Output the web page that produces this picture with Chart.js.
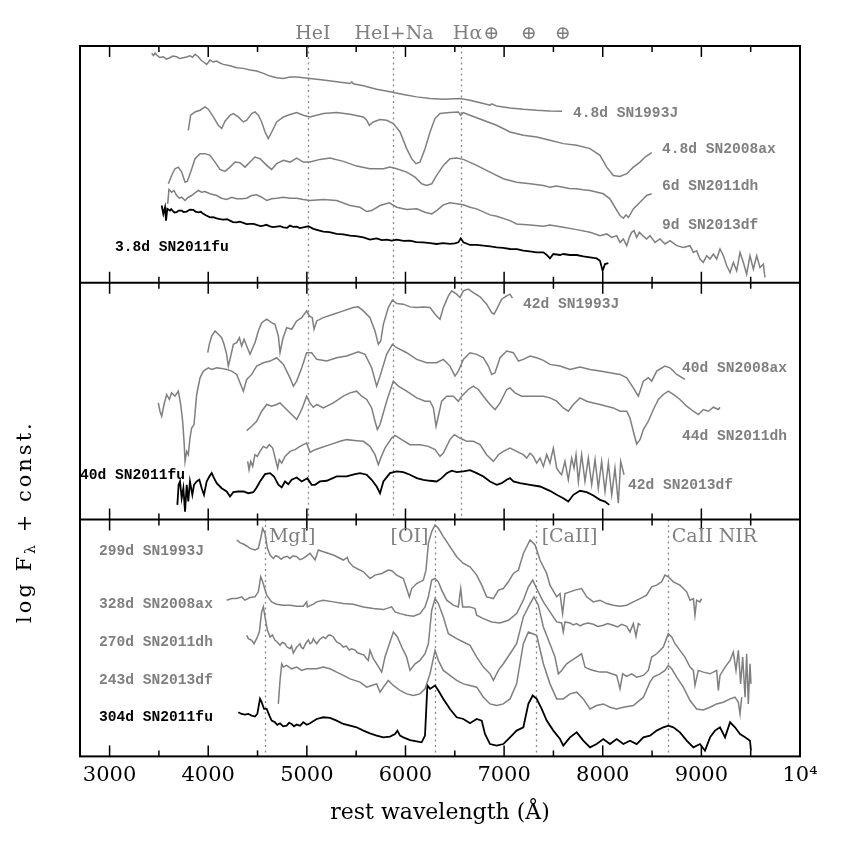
<!DOCTYPE html>
<html>
<head>
<meta charset="utf-8">
<script src="https://cdn.jsdelivr.net/npm/chart.js@4.4.1/dist/chart.umd.min.js"></script>
<style>
  html, body { margin: 0; padding: 0; background: #fff; }
  #wrap { width: 845px; height: 845px; }
</style>
</head>
<body>
<div id="wrap"><canvas id="specChart" width="845" height="845"></canvas></div>
<script>
// spectra as [rest wavelength (A), log F + const] pairs

// --- top panel: early phase ---
const early93J = [[3427,228.7],[3445,226.5],[3462,229],[3477,227],[3510,224.5],[3545,225.3],[3575,223],[3612,224.3],[3640,226],[3680,225.3],[3710,223.5],[3747,224.3],[3780,225],[3815,226.3],[3840,224.8],[3866,227.7],[3900,225.3],[3925,222],[3950,220.3],[3984,217.7],[4000,219.5],[4018,222],[4050,220],[4086,221],[4120,219],[4153,217.7],[4221,216.3],[4289,214.3],[4356,213.7],[4424,212],[4492,211],[4559,208.7],[4626,206],[4694,204.3],[4762,203.7],[4829,205],[4897,205],[4964,204.3],[5032,203.7],[5167,202],[5302,200.3],[5438,198.7],[5455,200.3],[5471,198.3],[5573,196.3],[5708,193],[5843,190.3],[5978,187.7],[6114,185.3],[6249,183.7],[6384,183],[6553,183.7],[6654,182],[6789,178.7],[6857,177],[6874,178.3],[6924,176.3],[7060,174.3],[7195,173],[7330,172],[7465,171.3],[7587,171]];
const early08ax = [[3798,152],[3822,167],[3866,170.3],[3917,172],[3967,175.3],[4001,173],[4052,165.3],[4102,157],[4137,153.7],[4170,161],[4221,167],[4255,168.7],[4305,165.3],[4356,160.3],[4390,162],[4441,168.7],[4474,170.3],[4508,167],[4542,160.3],[4576,150.3],[4609,143.7],[4644,150.3],[4694,160.3],[4762,165.3],[4829,167.7],[4897,169.7],[4964,167],[5032,165.3],[5167,168.7],[5302,169.7],[5438,168],[5573,165.3],[5607,162],[5633,157],[5674,160.3],[5742,162.7],[5810,162],[5877,158.7],[5945,150.3],[6012,133.7],[6063,123.7],[6107,118.7],[6147,120.3],[6198,133.7],[6249,150.3],[6299,163.7],[6350,168.7],[6451,169.7],[6536,170.3],[6560,167],[6586,169.7],[6654,167],[6789,162],[6924,157],[7060,150.3],[7195,147],[7330,145.3],[7465,142],[7600,138.7],[7736,137],[7871,133.7],[7972,127],[8040,115.3],[8107,107],[8175,106],[8243,108.7],[8310,115.3],[8378,120.3],[8429,125.3],[8497,129.7]];
const early11dh = [[3596,98.7],[3629,107],[3663,113.7],[3697,115.3],[3731,110.3],[3765,100.3],[3788,101],[3822,110.3],[3866,123.7],[3917,128.7],[3967,128.7],[4018,127],[4069,120.3],[4119,113],[4170,111],[4221,115.3],[4272,120.3],[4322,119.7],[4373,115.3],[4424,120.3],[4474,125.3],[4525,123.7],[4593,117],[4643,113],[4694,118.7],[4762,122],[4829,120.3],[4897,124.3],[4964,120.3],[5032,120.3],[5133,123],[5235,124.3],[5370,121],[5505,116.3],[5640,113.7],[5776,113.7],[5843,115.3],[5911,113.7],[6012,110.3],[6097,105.3],[6164,98.7],[6215,97],[6266,98.7],[6316,107],[6384,117],[6451,123.7],[6519,124.3],[6587,123],[6722,117],[6857,110.3],[6992,103.7],[7127,100.3],[7263,98.7],[7398,97],[7465,95.3],[7530,96.5],[7600,95.3],[7660,94],[7736,93.7],[7800,92.8],[7871,92],[8006,88.7],[8073,83.7],[8124,75.3],[8175,67],[8209,64.3],[8236,67.7],[8260,65],[8310,73.7],[8378,80.3],[8445,87],[8496,88.7]];
const early13df = [[3589,78.7],[3602,93],[3629,90.3],[3653,92],[3680,87],[3707,84.3],[3731,85.3],[3765,82],[3798,85.3],[3832,87],[3866,89.7],[3900,92],[3934,90.3],[3967,91],[4018,88.7],[4086,87],[4136,84.3],[4187,83],[4238,85.3],[4288,83.7],[4339,83.7],[4390,84.3],[4441,87],[4491,87.7],[4542,85.3],[4593,82],[4643,83.7],[4694,84.3],[4762,85.3],[4829,84.3],[4897,84.3],[4964,83],[5032,82],[5167,83],[5302,82],[5438,77],[5539,75.3],[5607,71],[5657,72],[5742,77],[5836,79.7],[5911,75.3],[6012,73],[6114,73.7],[6198,70.3],[6266,68.7],[6316,72],[6384,77.7],[6451,79.7],[6519,78.7],[6587,77.7],[6654,75.3],[6722,73.7],[6857,67.7],[6925,66.3],[7060,62],[7127,58.7],[7263,57.7],[7398,56.3],[7465,57.5],[7600,55.3],[7736,53],[7871,50.3],[7972,47],[8040,48.7],[8091,45.3],[8141,47],[8175,40.3],[8209,43.7],[8243,37],[8270,45.3],[8293,50.3],[8317,52],[8344,45.3],[8371,50.3],[8405,47],[8445,43.7],[8479,47],[8530,40.3],[8581,43.7],[8631,38.7],[8682,42],[8750,37],[8817,35.3],[8885,37],[8919,30.3],[8952,32],[8986,23.7],[9020,20.3],[9054,27],[9088,23.7],[9122,28.7],[9155,23.7],[9189,33.7],[9223,27],[9257,17],[9291,10.3],[9324,20.3],[9358,12],[9392,30.3],[9426,20.3],[9459,8.7],[9493,27],[9527,13.7],[9561,27],[9594,15.3],[9628,18.7],[9645,5.3]];
const early11fu = [[3528,77],[3545,68.7],[3562,75.3],[3572,62],[3585,73.7],[3612,72],[3625,73.5],[3646,71],[3660,70],[3680,70.3],[3700,72],[3731,72],[3750,70.5],[3781,71],[3815,73],[3849,72.7],[3870,71],[3900,70.3],[3925,70.8],[3950,68.7],[3980,67],[4018,65.3],[4050,65.5],[4086,64.3],[4120,63.5],[4153,63],[4190,63.3],[4221,62],[4250,60.5],[4288,60.3],[4320,61],[4356,59.7],[4390,58.5],[4424,58.7],[4460,58.8],[4491,57.7],[4530,56.5],[4559,57],[4590,57.8],[4626,56.3],[4660,55.5],[4694,56],[4730,56.5],[4762,55.3],[4800,54.8],[4829,57],[4860,55.8],[4897,56],[4930,54.6],[4964,55.3],[5015,56.3],[5066,53.7],[5110,52.5],[5167,51],[5230,50.5],[5302,48.7],[5370,48.2],[5438,47],[5500,46.5],[5573,45.3],[5640,43],[5708,44.3],[5760,42.5],[5809,43],[5860,42],[5911,43],[5980,41.8],[6046,42],[6110,40.5],[6181,40.3],[6250,39.6],[6316,38.7],[6380,39.5],[6451,38.7],[6500,39.2],[6536,40.3],[6560,44.3],[6587,40.3],[6654,37.7],[6720,37.8],[6789,37],[6860,36.2],[6925,35.3],[6990,34.8],[7060,33.7],[7130,33.5],[7195,32],[7260,31.4],[7330,30.3],[7398,30.3],[7430,28],[7465,24.3],[7499,28.7],[7567,27.7],[7600,28.7],[7668,27.7],[7736,27.7],[7803,26.3],[7871,25.3],[7938,24.3],[7972,22],[7999,12],[8023,18.7],[8057,19.7]];

// --- middle panel: ~40 days ---
const mid93J = [[3995,166.3],[4011,174.7],[4035,183],[4069,188],[4103,184.7],[4137,181.3],[4160,174.7],[4187,164.7],[4204,153],[4221,159.7],[4255,174.7],[4289,176.3],[4316,181.3],[4339,173],[4363,179.7],[4390,173],[4424,164.7],[4451,171.3],[4474,176.3],[4508,188],[4542,196.3],[4593,199.7],[4643,196.3],[4677,194.7],[4711,183],[4728,166.3],[4755,179.7],[4795,191.3],[4846,189.7],[4897,198],[4948,201.3],[4998,208],[5025,203],[5055,201.3],[5073,189.7],[5100,198],[5167,201.3],[5269,204.7],[5370,208],[5471,211.3],[5522,212],[5573,208],[5640,201.3],[5691,188],[5725,174.7],[5749,178],[5776,194.7],[5826,211.3],[5867,218.7],[5911,215.3],[5978,214.7],[6046,212],[6114,211.3],[6181,212],[6249,211.3],[6300,204.7],[6350,199.7],[6384,211.3],[6435,223],[6469,228],[6519,224.7],[6553,221.3],[6587,228],[6637,229.7],[6688,226.3],[6756,222],[6823,214.7],[6874,206.3],[6898,204.7],[6925,209.7],[6975,219.7],[7026,223],[7060,224.7],[7084,220.7]];
const mid08ax = [[3494,116.3],[3511,108],[3528,103],[3552,114.7],[3579,124.7],[3606,119.7],[3629,126.3],[3663,123],[3697,128],[3721,114.7],[3741,98],[3755,78],[3765,58],[3782,68],[3798,64.7],[3815,81.3],[3832,91.3],[3856,94.7],[3883,124.7],[3917,141.3],[3951,148],[4001,151.3],[4035,149.7],[4086,151.3],[4136,150.7],[4187,149.7],[4238,148],[4289,144.7],[4322,136.3],[4356,128],[4390,139.7],[4441,144.7],[4491,153],[4559,156.3],[4627,158],[4694,161.3],[4762,154.7],[4829,141.3],[4863,133],[4897,138],[4948,151.3],[4998,166.3],[5049,166.3],[5100,159.7],[5201,158],[5302,161.3],[5404,163],[5522,167.3],[5590,164.7],[5657,151.3],[5708,133],[5742,143],[5809,164.7],[5867,174.7],[5911,171.3],[6012,166.3],[6114,159.7],[6215,156.3],[6316,156.3],[6384,159.7],[6451,153],[6502,143],[6536,148],[6587,159.7],[6654,166.3],[6722,164.7],[6790,161.3],[6840,153],[6874,144.7],[6908,146.3],[6959,161.3],[7026,168],[7094,166.3],[7145,158],[7195,159.7],[7263,163],[7330,161.3],[7398,158.7],[7465,154.7],[7567,153],[7668,149.7],[7769,152],[7871,149.7],[7972,148],[8073,146.3],[8175,144.7],[8243,141.3],[8310,131.3],[8361,123],[8412,138],[8462,141.3],[8496,138],[8547,148],[8631,153],[8682,151.3],[8750,144.7],[8834,139.7]];
const mid11dh = [[4390,88.7],[4441,93],[4491,98],[4542,108],[4593,114.7],[4643,113],[4694,114.7],[4728,116.3],[4779,111.3],[4846,104.7],[4897,99.7],[4948,109.7],[4998,123],[5032,116],[5066,112],[5100,114.7],[5167,111.3],[5269,116.3],[5370,123],[5438,126.3],[5505,128],[5556,123],[5607,119.7],[5657,111.3],[5691,98],[5715,89.7],[5742,94.7],[5809,118],[5877,138],[5928,133],[6012,128],[6114,121.3],[6198,118],[6249,118],[6283,111.3],[6310,93],[6333,103],[6367,118],[6418,123],[6485,123],[6536,118],[6570,123],[6637,129.7],[6688,133],[6739,129.7],[6790,123],[6857,114.7],[6908,109.7],[6959,116.3],[7026,129.7],[7060,131.3],[7111,126.3],[7178,123],[7263,123],[7398,123],[7465,121.3],[7533,118],[7600,111.3],[7651,108],[7702,114.7],[7769,121.3],[7837,118],[7905,116.3],[7972,114.7],[8040,113],[8107,111.3],[8175,108],[8243,108],[8276,101.3],[8310,88],[8344,75.3],[8378,79.7],[8412,89.7],[8462,98],[8513,109.7],[8564,119.7],[8614,124.7],[8665,128],[8716,124.7],[8783,119.7],[8851,113],[8919,108],[8969,104.7],[9020,109.7],[9071,108],[9122,112],[9172,109.7],[9189,112]];
const mid13df = [[4400,58],[4414,49.7],[4431,58],[4451,53],[4474,64.7],[4498,63],[4525,68],[4559,73],[4593,71.3],[4620,74.7],[4654,71.3],[4687,58],[4704,51.3],[4721,59.7],[4745,56.3],[4779,63],[4829,68],[4880,69.7],[4931,73],[4964,74.7],[4998,76.3],[5032,67],[5083,69.7],[5133,71.3],[5235,74.7],[5336,78],[5404,79.7],[5505,78.7],[5573,78],[5640,73],[5691,64.7],[5725,54.7],[5749,61.3],[5792,71.3],[5860,81.3],[5894,84],[5962,79.7],[6046,74.7],[6147,74.7],[6232,73],[6300,69.7],[6350,63],[6384,66.3],[6451,79.7],[6495,84.7],[6553,81.3],[6620,78],[6688,78],[6756,74.7],[6823,64.7],[6891,58],[6942,64.7],[6992,68],[7060,71.3],[7127,68],[7195,64.7],[7229,61.3],[7263,66.3],[7296,63],[7330,56.3],[7364,61.3],[7398,53],[7432,64.7],[7465,56.3],[7499,71.3],[7533,51.3],[7567,46.3],[7583,44.7],[7617,58],[7651,39.7],[7685,61.3],[7709,51.3],[7729,64.7],[7753,38],[7786,64.7],[7820,38],[7854,61.3],[7888,34.7],[7922,59.7],[7955,31.3],[7989,58],[8023,28],[8057,56.3],[8091,24.7],[8124,51.3],[8158,16.3],[8182,58],[8216,44.7]];
const mid11fu = [[3687,14.7],[3700,34.7],[3714,38],[3731,21.3],[3748,31.3],[3765,8],[3782,34.7],[3798,18],[3815,38],[3839,24.7],[3856,34.7],[3883,38],[3910,39.7],[3934,31.3],[3957,24.7],[3984,38],[4011,43],[4035,46.3],[4059,41.3],[4086,36.3],[4136,31.3],[4187,28],[4221,23],[4255,27.3],[4305,28],[4356,28],[4407,26.3],[4458,27.3],[4491,32],[4525,38],[4576,45.3],[4627,46.3],[4667,43],[4711,34.7],[4745,32],[4779,38],[4812,35.3],[4846,39.7],[4897,42],[4948,38],[5005,41.3],[5049,34.7],[5083,34.7],[5133,38],[5201,38.7],[5302,43],[5404,43],[5488,45.3],[5539,46.3],[5607,44.7],[5657,39.7],[5708,33],[5742,26.3],[5776,38],[5843,46.3],[5911,48],[5978,47.3],[6046,44.7],[6114,41.3],[6181,39.7],[6249,38.7],[6316,38],[6367,41.3],[6418,46.3],[6469,48.7],[6519,47.3],[6587,48],[6654,49.3],[6722,46.3],[6790,43],[6857,38],[6925,34.7],[6975,36.3],[7026,39.7],[7060,41.3],[7094,38],[7161,36.3],[7263,34.7],[7364,33],[7465,28.7],[7533,24.7],[7600,21.3],[7651,18],[7702,24.7],[7769,28.7],[7837,27.3],[7905,24],[7972,19.7],[8023,18],[8066,14.7]];

// --- bottom panel: nebular phase ---
const neb93J = [[4289,215.7],[4322,213],[4356,211.7],[4390,209.7],[4424,207.3],[4474,205.7],[4508,207.3],[4532,217.3],[4552,227.3],[4576,222.3],[4600,207.3],[4627,200.7],[4660,197.3],[4685,200],[4711,199],[4740,196.5],[4762,198.3],[4800,199.5],[4829,197.3],[4860,200],[4897,199],[4930,196],[4964,197.3],[5032,202.3],[5083,195.7],[5117,205.7],[5167,204],[5269,200.7],[5370,195.7],[5411,198.3],[5424,194],[5471,189],[5573,184],[5640,177.3],[5691,180.7],[5759,182.3],[5826,185.7],[5860,185],[5911,180.7],[5978,177.3],[6012,167.3],[6039,159],[6063,167.3],[6114,172.3],[6181,175.7],[6208,185.7],[6232,212.3],[6266,224],[6300,230.7],[6333,227.3],[6384,219],[6451,209],[6519,199],[6587,192.3],[6654,189],[6722,180.7],[6773,170.7],[6823,159],[6891,157.3],[6942,165.7],[6992,167.3],[7043,174],[7094,182.3],[7145,185.7],[7195,202.3],[7263,215.7],[7314,210.7],[7364,195.7],[7432,182.3],[7465,170.7],[7533,159],[7567,162.3],[7593,142.3],[7617,162.3],[7668,164],[7719,165.7],[7786,167.3],[7837,159],[7905,154],[7972,155.7],[8040,152.3],[8107,150.7],[8175,149.7],[8243,150.7],[8310,154],[8378,157.3],[8445,160.7],[8496,169],[8547,170.7],[8597,174],[8631,180.7],[8665,179],[8716,174],[8783,170.7],[8851,164],[8885,155.7],[8919,157.3],[8935,140.7],[8952,155.7],[8986,154],[9003,157.3]];
const neb08ax = [[4187,155.7],[4238,157.3],[4289,157.3],[4339,159],[4373,155.7],[4424,158.3],[4474,159],[4508,164],[4532,179],[4552,174],[4593,160.7],[4643,154],[4694,151.7],[4762,150.7],[4829,150.7],[4897,149.7],[4964,149.7],[4998,154],[5005,149],[5066,151.7],[5100,154],[5167,155.7],[5269,154],[5370,152.3],[5471,151.7],[5573,149],[5674,147.3],[5776,146.3],[5860,149],[5894,144],[5945,142.3],[6012,140.7],[6080,139.7],[6147,142.3],[6198,149],[6232,159],[6266,175.7],[6300,177.3],[6333,174],[6367,165.7],[6418,155.7],[6485,150.7],[6536,149],[6560,167.3],[6580,149],[6654,149],[6705,147.3],[6722,140.7],[6790,137.3],[6874,134],[6959,133],[7043,135.7],[7127,142.3],[7195,155.7],[7246,169],[7290,175.7],[7330,167.3],[7398,154],[7465,144],[7533,134],[7583,133],[7600,124],[7617,134],[7668,133],[7700,131],[7736,132.3],[7770,130],[7803,131.7],[7850,133],[7905,131.7],[7950,129.5],[8006,130.7],[8050,132.5],[8107,130.7],[8150,129],[8192,131.7],[8243,129.7],[8276,124],[8310,132.3],[8337,119.7],[8361,132.3],[8384,130.7]];
const neb11dh = [[4390,120.7],[4407,117.3],[4441,115.7],[4464,112.3],[4491,117.3],[4518,124],[4542,144],[4559,149],[4576,139],[4600,125.7],[4627,119],[4650,121],[4677,115.7],[4700,114],[4728,110.7],[4750,113.5],[4779,112.3],[4800,109],[4829,107.3],[4845,110],[4863,103],[4880,106],[4897,109],[4915,110.5],[4931,112.3],[4945,108.5],[4964,107.3],[4980,111],[4998,114],[5015,116],[5032,112.3],[5050,113.5],[5066,117.3],[5083,114.5],[5100,112.3],[5130,116.5],[5167,119],[5190,117.5],[5218,120.7],[5240,121],[5269,119],[5285,116.5],[5302,114],[5335,112.5],[5370,109],[5400,110],[5430,106],[5454,107.3],[5490,106],[5510,103.5],[5539,102.3],[5580,101],[5600,98],[5623,95.7],[5640,105.7],[5674,97.3],[5708,92.3],[5759,84],[5792,99],[5843,114],[5877,124],[5918,119],[5962,109],[6012,99],[6046,85.7],[6097,92.3],[6147,95.7],[6198,102.3],[6232,112.3],[6266,145.7],[6300,157.3],[6333,152.3],[6384,139],[6435,122.3],[6519,117.3],[6587,114],[6654,110.7],[6722,99],[6790,89],[6857,82.3],[6891,75.7],[6942,85.7],[6992,92.3],[7060,102.3],[7127,112.3],[7195,139],[7263,152.3],[7303,159],[7347,150.7],[7398,129],[7465,112],[7516,99],[7550,82.3],[7583,85.7],[7634,92.3],[7685,95.7],[7736,99],[7786,102.3],[7820,89],[7854,87.3],[7905,85.7],[7972,84],[8040,84],[8090,82.3],[8141,80.7],[8175,67.3],[8202,82.3],[8243,79.7],[8293,82.3],[8344,79],[8412,80.7],[8462,85.7],[8496,99],[8547,102.3],[8614,109],[8665,122.3],[8699,119],[8733,112.3],[8783,105.7],[8834,99],[8885,89],[8919,85.7],[8935,70.7],[8969,85.7],[9020,84],[9088,82.3],[9155,85.7],[9172,65.7],[9189,80.7],[9240,89],[9291,95.7],[9324,104],[9351,85.7],[9375,105.7],[9398,72.3],[9419,99],[9443,59],[9459,102.3],[9476,52.3],[9493,92.3],[9503,72.3]];
const neb13df = [[4711,52.3],[4728,75.7],[4745,92.3],[4762,89],[4795,90.7],[4846,87.3],[4897,89],[4948,85.7],[4998,87.3],[5100,87.3],[5167,89],[5235,87.3],[5302,84],[5370,80.7],[5438,77.3],[5539,74],[5607,69],[5657,70.7],[5708,72.3],[5742,64],[5776,69],[5826,75.7],[5877,70.7],[5945,65.7],[6012,62.3],[6080,60.7],[6147,62.3],[6198,67.3],[6249,82.3],[6300,105.7],[6333,95.7],[6384,85.7],[6451,80.7],[6519,75.7],[6587,72.3],[6654,70.7],[6722,69],[6790,59],[6857,52.3],[6925,50.7],[6992,52.3],[7060,57.3],[7127,72.3],[7195,112.3],[7246,124],[7290,122.3],[7330,120.7],[7398,92.3],[7465,72.3],[7533,57.3],[7600,57.3],[7668,62.3],[7736,64],[7803,57.3],[7871,47.3],[7938,50.7],[8006,52.3],[8073,49],[8141,47.3],[8209,49],[8310,50.7],[8412,59],[8479,74],[8513,79],[8580,82.3],[8631,85.7],[8665,90.7],[8699,87.3],[8750,79],[8817,69],[8885,55.7],[8952,47.3],[9020,46.3],[9088,49],[9155,52.3],[9223,54],[9291,57.3],[9341,59],[9375,54],[9392,42.3],[9409,59]];
const neb11fu = [[4305,44],[4339,42.3],[4373,41.7],[4407,42.3],[4441,40.7],[4474,39.7],[4498,42.3],[4525,57.3],[4542,54],[4566,47.3],[4593,47.3],[4620,40.7],[4643,35.7],[4677,34],[4700,31.5],[4728,33],[4760,30],[4795,30.7],[4820,33.5],[4846,32.3],[4870,30],[4897,31.7],[4930,30.5],[4964,34],[5000,31.5],[5032,33],[5100,37.3],[5167,39],[5235,38.3],[5302,35.7],[5370,32.3],[5438,30.7],[5505,29],[5573,25.7],[5640,23],[5708,20.7],[5776,19],[5843,19.7],[5894,22.3],[5918,25.7],[5945,20.7],[5978,19],[6046,16.3],[6114,15],[6164,14],[6198,20.7],[6222,70.7],[6249,67.3],[6300,70.7],[6333,65.7],[6384,57.3],[6451,47.3],[6519,39],[6587,37.3],[6654,33],[6722,37.3],[6773,35.7],[6806,22.3],[6857,12.3],[6925,10.7],[6992,12.3],[7060,19],[7127,25.7],[7195,29],[7246,52.3],[7290,60.7],[7330,57.3],[7381,47.3],[7432,35.7],[7499,25.7],[7567,17.3],[7600,10.7],[7668,19],[7736,24],[7803,15.7],[7871,9],[7938,12.3],[8006,17.3],[8073,12.3],[8141,17.3],[8209,12.3],[8276,15.7],[8344,12.3],[8412,19],[8479,20.7],[8547,25.7],[8614,29],[8665,30.7],[8716,29],[8783,24],[8851,15.7],[8919,9],[8986,12.3],[9037,5.7],[9088,19],[9138,25.7],[9189,29],[9240,19],[9291,34],[9341,29],[9392,22.3],[9443,19],[9493,15.7],[9503,5.7]];

// names, in the same order as the spectra in each panel
const earlyNames = ["4.8d SN1993J", "4.8d SN2008ax", "6d SN2011dh", "9d SN2013df", "3.8d SN2011fu"];
const midNames = ["42d SN1993J", "40d SN2008ax", "44d SN2011dh", "42d SN2013df", "40d SN2011fu"];
const nebNames = ["299d SN1993J", "328d SN2008ax", "270d SN2011dh", "243d SN2013df", "304d SN2011fu"];
// where each name sits: [wavelength, log F + const]
const earlyNameAt = [[7699, 169], [8601, 133], [8601, 96], [8601, 57], [3055, 35]];
const midNameAt = [[7192, 215], [8804, 151], [8804, 83], [8256, 34], [2700, 44]];
const nebNameAt = [[2893, 204], [2893, 152], [2893, 114], [2893, 76], [2893, 39]];

// line identifications
const earlyLines = [5016, 5876, 6563];
const nebLines = [4571, 6300, 7320, 8662];
const earlyIds = ["HeI", "HeI+Na", "Hα", "⊕", "⊕", "⊕"];
const earlyIdWl = [5062, 5884, 6629, 6872, 7252, 7597];
const nebIds = ["MgI]", "[OI]", "[CaII]", "CaII NIR"];
const nebIdWl = [4851, 6041, 7663, 9133];

const tickWl = [3000, 3500, 4000, 4500, 5000, 5500, 6000, 6500, 7000, 7500, 8000, 8500, 9000, 9500, 10000];

const panelSpan = 236;
const panelBase = [472, 236, 0];
const grey = "#7f7f7f";
const snColors = [grey, grey, grey, grey, "#000000"];

const panels = [
  { base: panelBase[0], spectra: [early93J, early08ax, early11dh, early13df, early11fu], names: earlyNames, at: earlyNameAt, lines: earlyLines },
  { base: panelBase[1], spectra: [mid93J, mid08ax, mid11dh, mid13df, mid11fu], names: midNames, at: midNameAt, lines: earlyLines },
  { base: panelBase[2], spectra: [neb93J, neb08ax, neb11dh, neb13df, neb11fu], names: nebNames, at: nebNameAt, lines: nebLines }
];

const datasets = [];
panels.forEach(p => {
  p.spectra.forEach((spec, i) => {
    datasets.push({
      label: p.names[i],
      data: spec.map(([wl, f]) => ({ x: wl, y: f + p.base })),
      borderColor: snColors[i],
      borderWidth: i === 4 ? 1.8 : 1.5,
      pointRadius: 0,
      tension: 0,
      fill: false
    });
  });
});

const serif = "'DejaVu Serif', serif";
const mono = "'Liberation Mono', monospace";

const panelDecor = {
  id: "panelDecor",
  beforeDatasetsDraw(chart) {
    const { ctx } = chart;
    const x = chart.scales.x, y = chart.scales.y;
    ctx.save();
    ctx.strokeStyle = "#8a8a8a";
    ctx.lineWidth = 1.3;
    ctx.setLineDash([2, 3.5]);
    panels.forEach(p => {
      const top = y.getPixelForValue(p.base + panelSpan);
      const bottom = y.getPixelForValue(p.base);
      p.lines.forEach(wl => {
        const px = Math.round(x.getPixelForValue(wl)) + 0.5;
        ctx.beginPath();
        ctx.moveTo(px, top);
        ctx.lineTo(px, bottom);
        ctx.stroke();
      });
    });
    ctx.restore();
  },
  afterDatasetsDraw(chart) {
    const { ctx, chartArea: a } = chart;
    const x = chart.scales.x, y = chart.scales.y;
    ctx.save();

    // frame and panel dividers
    ctx.strokeStyle = "#000";
    ctx.lineWidth = 2;
    ctx.strokeRect(a.left, a.top, a.right - a.left, a.bottom - a.top);
    const edges = [0, panelSpan, 2 * panelSpan, 3 * panelSpan];
    [edges[1], edges[2]].forEach(v => {
      const py = y.getPixelForValue(v);
      ctx.beginPath();
      ctx.moveTo(a.left, py);
      ctx.lineTo(a.right, py);
      ctx.stroke();
    });

    // inward ticks on every panel edge
    ctx.lineWidth = 1.5;
    edges.forEach((v, k) => {
      const py = y.getPixelForValue(v);
      tickWl.forEach(wl => {
        const len = wl % 1000 === 0 ? 11 : 6;
        const px = x.getPixelForValue(wl);
        ctx.beginPath();
        if (k < 3) { ctx.moveTo(px, py); ctx.lineTo(px, py - len); }
        if (k > 0) { ctx.moveTo(px, py); ctx.lineTo(px, py + len); }
        ctx.stroke();
      });
    });

    // spectrum names
    ctx.font = "bold 14.6px " + mono;
    ctx.textAlign = "left";
    ctx.textBaseline = "middle";
    panels.forEach(p => {
      p.names.forEach((name, i) => {
        ctx.fillStyle = snColors[i];
        ctx.fillText(name, x.getPixelForValue(p.at[i][0]), y.getPixelForValue(p.at[i][1] + p.base));
      });
    });

    // line identifications
    ctx.font = "19px " + serif;
    ctx.fillStyle = grey;
    ctx.textAlign = "center";
    const idTop = y.getPixelForValue(3 * panelSpan) - 12;
    earlyIds.forEach((t, i) => ctx.fillText(t, x.getPixelForValue(earlyIdWl[i]), idTop));
    const idNeb = y.getPixelForValue(panelBase[2] + 219);
    nebIds.forEach((t, i) => ctx.fillText(t, x.getPixelForValue(nebIdWl[i]), idNeb));

    // y title with subscript lambda, spaced out like the original
    ctx.fillStyle = "#000";
    ctx.translate(25, y.getPixelForValue(panelSpan) + 2);
    ctx.rotate(-Math.PI / 2);
    ctx.textAlign = "left";
    ctx.textBaseline = "alphabetic";
    ctx.letterSpacing = "3px";
    const big = "21px " + serif, small = "14px " + serif;
    ctx.font = big;
    const w1 = ctx.measureText("log F").width;
    const w3 = ctx.measureText(" + const.").width;
    ctx.font = small;
    const w2 = ctx.measureText("λ").width;
    let cx = -(w1 + w2 + w3) / 2;
    ctx.font = big;
    ctx.fillText("log F", cx, 6);
    cx += w1;
    ctx.font = small;
    ctx.fillText("λ", cx, 10);
    cx += w2;
    ctx.font = big;
    ctx.fillText(" + const.", cx, 6);
    ctx.restore();
  }
};

new Chart(document.getElementById("specChart"), {
  type: "line",
  data: { datasets },
  options: {
    responsive: false,
    animation: false,
    events: [],
    layout: { padding: { left: 80, right: 45, top: 46, bottom: 15 } },
    plugins: { legend: { display: false }, tooltip: { enabled: false } },
    scales: {
      x: {
        type: "linear",
        min: 2700,
        max: 10000,
        afterBuildTicks: scale => { scale.ticks = tickWl.map(v => ({ value: v })); },
        grid: { display: false, drawTicks: false },
        border: { display: false },
        ticks: {
          autoSkip: false,
          maxRotation: 0,
          padding: 7,
          color: "#000",
          font: { family: "DejaVu Serif", size: 21 },
          callback: v => (v % 1000 !== 0 ? "" : v === 10000 ? "10⁴" : String(v))
        },
        title: {
          display: true,
          text: "rest wavelength (Å)",
          color: "#000",
          font: { family: "DejaVu Serif", size: 22 },
          padding: { top: 4, bottom: 4 }
        }
      },
      y: { display: false, min: 0, max: 3 * panelSpan }
    }
  },
  plugins: [panelDecor]
});
</script>
</body>
</html>
